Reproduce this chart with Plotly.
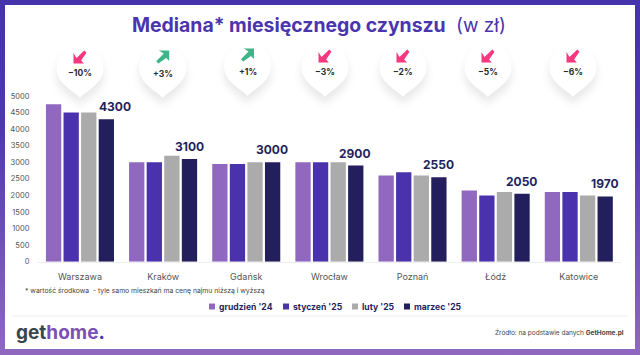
import base64
import plotly.graph_objects as go

categories = ["Warszawa", "Kraków", "Gdańsk", "Wrocław", "Poznań", "Łódź", "Katowice"]
series_names = ["grudzień '24", "styczeń '25", "luty '25", "marzec '25"]
grudzien = [4750, 3000, 2950, 3000, 2600, 2150, 2100]
styczen = [4500, 3000, 2950, 3000, 2700, 2000, 2100]
luty = [4500, 3200, 3000, 3000, 2600, 2100, 2000]
marzec = [4300, 3100, 3000, 2900, 2550, 2050, 1970]
changes = ["-10%", "+3%", "+1%", "-3%", "-2%", "-5%", "-6%"]
colors = ["#9068C0", "#4A32AD", "#ABABAB", "#231F5C"]

W, H = 640, 355
FONT = "Inter"
X0, X1 = 38.4, 620.8
Y0, Y1 = 261.7, 96.0
pin_x = [80, 162.7, 247.5, 325, 403, 488, 573]
pin_tip = [98, 98, 96, 97, 97, 97, 97]
text_y = [73, 74, 72, 72, 72.5, 72.5, 72.5]


def px(x):
    return x / W


def py(y):
    return 1 - y / H


def pin_path(cx, tip):
    cy = tip - 30
    r = 23.5
    return (f"M{cx},{tip} C{cx-6},{tip-7} {cx-r},{cy+16} {cx-r},{cy} "
            f"A{r},{r} 0 1 1 {cx+r},{cy} C{cx+r},{cy+16} {cx+6},{tip-7} {cx},{tip} Z")


pins = "".join(f'<path d="{pin_path(x, t)}"/>' for x, t in zip(pin_x, pin_tip))
svg = f'''<svg xmlns="http://www.w3.org/2000/svg" width="{W}" height="{H}" viewBox="0 0 {W} {H}">
<defs>
<linearGradient id="g" x1="0" y1="0" x2="0" y2="1"><stop offset="0" stop-color="#4433AD"/><stop offset="0.35" stop-color="#4E38B0"/><stop offset="1" stop-color="#9068C0"/></linearGradient>
<filter id="b" x="-50%" y="-50%" width="200%" height="200%"><feGaussianBlur stdDeviation="4"/></filter>
</defs>
<rect width="{W}" height="{H}" fill="url(#g)"/>
<rect x="5" y="5" width="630" height="344" fill="#FFFFFF"/>
<line x1="12" y1="316" x2="628" y2="316" stroke="#EEEEEE" stroke-width="1"/>
<g fill="#000000" fill-opacity="0.09" filter="url(#b)" transform="translate(0,7)">{pins}</g>
<g fill="#FFFFFF">{pins}</g>
</svg>'''
svg_uri = "data:image/svg+xml;base64," + base64.b64encode(svg.encode()).decode()

fig = go.Figure()
for name, vals, col in zip(series_names, [grudzien, styczen, luty, marzec], colors):
    fig.add_trace(go.Bar(name=name, x=categories, y=vals, marker_color=col, marker_line_width=0))

shapes = []
annotations = []


def text(x, y, s, size, color="#333333", anchor="center", family=FONT):
    annotations.append(dict(xref="paper", yref="paper", x=px(x), y=py(y), text=s, showarrow=False,
                            xanchor=anchor, yanchor="middle", borderpad=0,
                            font=dict(size=size, color=color, family=family)))


text(289, 25, "<b>Mediana* miesięcznego czynszu</b>", 19.4, "#4A35AD")
text(455, 25, "(w zł)", 19, "#4A35AD", "left")

for i, c in enumerate(changes):
    up = c.startswith("+")
    col = "#3EB489" if up else "#F5387F"
    cx, tip = pin_x[i], pin_tip[i]
    cy = tip - 41
    s = 6.5
    if up:
        d = (f"M{cx-s+2.6},{cy-s} L{cx+s},{cy-s} L{cx+s},{cy+s-2.6} L{cx+s-3},{cy+s-5.4} "
             f"L{cx-s+2.2},{cy+s} L{cx-s},{cy+s-2.2} L{cx+s-5.4},{cy-s+3} Z")
    else:
        d = (f"M{cx-s},{cy-s+2.6} L{cx-s},{cy+s} L{cx+s-2.6},{cy+s} L{cx+s-5.4},{cy+s-3} "
             f"L{cx+s},{cy-s+2.2} L{cx+s-2.2},{cy-s} L{cx-s+3},{cy+s-5.4} Z")
    parts = d.split()
    out = []
    for tok in parts:
        prefix = tok[0] if tok[0] in "ML" else ""
        if prefix:
            a, b = tok[1:].split(",")
            out.append(f"{prefix}{px(float(a)):.5f},{py(float(b)):.5f}")
        else:
            out.append(tok)
    shapes.append(dict(type="path", xref="paper", yref="paper", path=" ".join(out), fillcolor=col, line_width=0))
    text(cx, text_y[i], f"<b>{c.replace('-', '−')}</b>", 8.5, "#2A2A2A")

label_dx = [35.5] + [26] * 6
for cat, v, dx in zip(categories, marzec, label_dx):
    annotations.append(dict(x=cat, y=v, xref="x", yref="y", text=f"<b>{v}</b>", showarrow=False,
                            xshift=dx, yshift=12.5, xanchor="center", yanchor="middle",
                            font=dict(size=12, color="#231F5C", family=FONT)))

text(24, 290, "* wartość środkowa  - tyle samo mieszkań ma cenę najmu niższą i wyższą", 6.8, "#444444", "left")

swatch_x = [209, 283, 352, 404]
for sx, name, col in zip(swatch_x, series_names, colors):
    shapes.append(dict(type="rect", xref="paper", yref="paper", x0=px(sx), x1=px(sx + 6),
                       y0=py(309.5), y1=py(303.5), fillcolor=col, line_width=0))
    text(sx + 9, 306.5, f"<b>{name}</b>", 8.6, "#231F5C", "left")

text(15, 332, '<b><span style="color:#37474F">get</span><span style="color:#7B4FB5">home</span>'
     '<span style="color:#4A35AD">.</span></b>', 19, "#37474F", "left")
text(625, 332.5, 'Źródło: na podstawie danych <b>GetHome.pl</b>', 6.5, "#444444", "right")

fig.update_layout(
    width=W, height=H, autosize=False,
    margin=dict(l=0, r=0, t=0, b=0, pad=0, autoexpand=False),
    paper_bgcolor="#FFFFFF", plot_bgcolor="rgba(0,0,0,0)",
    barmode="group", bargap=0.154, bargroupgap=0.13,
    showlegend=False,
    font=dict(family=FONT),
    images=[dict(source=svg_uri, xref="paper", yref="paper", x=0, y=1, sizex=1, sizey=1,
                 xanchor="left", yanchor="top", sizing="stretch", layer="below")],
    shapes=shapes, annotations=annotations,
    xaxis=dict(domain=[px(X0), px(X1)], automargin=False, showgrid=False, showline=True, linecolor="#EEEEEE", linewidth=1,
               ticks="", tickfont=dict(size=9, color="#555555", family=FONT), ticklabelstandoff=6),
    yaxis=dict(domain=[py(Y0), py(Y1)], automargin=False, range=[0, 5000], dtick=500, showgrid=False, zeroline=False,
               showline=False, ticks="", tickfont=dict(size=7.5, color="#555555", family=FONT),
               ticklabelstandoff=8),
)
fig.write_html("out.html", config={"displayModeBar": False},
               post_script="document.body.style.margin='0';document.documentElement.style.overflow='hidden';")
